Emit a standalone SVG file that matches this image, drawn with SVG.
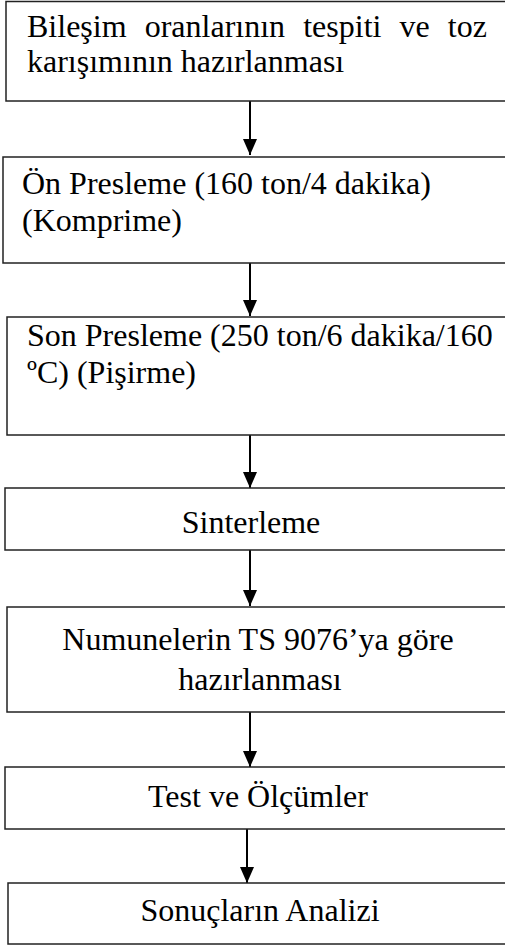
<svg xmlns="http://www.w3.org/2000/svg" width="505" height="946" viewBox="0 0 505 946">
<style>
.box{fill:#fff;stroke:#222;stroke-width:1.5}
.t{font-family:"Liberation Serif","Times New Roman",serif;font-size:32px;fill:#000}
.c{text-anchor:middle}
.ln{stroke:#000;stroke-width:2;fill:none}
</style>
<defs>
<marker id="ah" viewBox="0 0 16 14" refX="16" refY="7" markerWidth="16" markerHeight="14" markerUnits="userSpaceOnUse" orient="auto">
<path d="M0,0 L16,7 L0,14 Z" fill="#000"/>
</marker>
</defs>
<g id="connectors">
<line class="ln" x1="250" y1="101" x2="250" y2="155" marker-end="url(#ah)"/>
<line class="ln" x1="250" y1="263" x2="250" y2="316" marker-end="url(#ah)"/>
<line class="ln" x1="250" y1="435" x2="250" y2="488" marker-end="url(#ah)"/>
<line class="ln" x1="250" y1="550" x2="250" y2="606" marker-end="url(#ah)"/>
<line class="ln" x1="250" y1="712" x2="250" y2="767" marker-end="url(#ah)"/>
<line class="ln" x1="247" y1="829" x2="247" y2="883" marker-end="url(#ah)"/>
</g>
<g id="n1">
<rect class="box" x="6" y="1.5" width="510" height="99.5"/>
<text class="t" y="37"><tspan x="27">Bileşim</tspan><tspan x="144.7">oranlarının</tspan><tspan x="303.2">tespiti</tspan><tspan x="399.5">ve</tspan><tspan x="447.8">toz</tspan></text>
<text class="t" x="27" y="72">karışımının hazırlanması</text>
</g>
<g id="n2">
<rect class="box" x="3" y="157" width="512" height="106"/>
<text class="t" x="22" y="194">Ön Presleme (160 ton/4 dakika)</text>
<text class="t" x="22" y="231">(Komprime)</text>
</g>
<g id="n3">
<rect class="box" x="7" y="317" width="510" height="118"/>
<text class="t" x="27" y="346">Son Presleme (250 ton/6 dakika/160</text>
<text class="t" x="27" y="383">ºC) (Pişirme)</text>
</g>
<g id="n4">
<rect class="box" x="5" y="488" width="512" height="62"/>
<text class="t c" x="251" y="533">Sinterleme</text>
</g>
<g id="n5">
<rect class="box" x="7" y="607" width="510" height="105"/>
<text class="t c" x="258" y="650">Numunelerin TS 9076’ya göre</text>
<text class="t c" x="260" y="690">hazırlanması</text>
</g>
<g id="n6">
<rect class="box" x="5" y="767" width="512" height="62"/>
<text class="t c" x="258" y="807">Test ve Ölçümler</text>
</g>
<g id="n7">
<rect class="box" x="8" y="883" width="510" height="61"/>
<text class="t c" x="260" y="921">Sonuçların Analizi</text>
</g>
</svg>
